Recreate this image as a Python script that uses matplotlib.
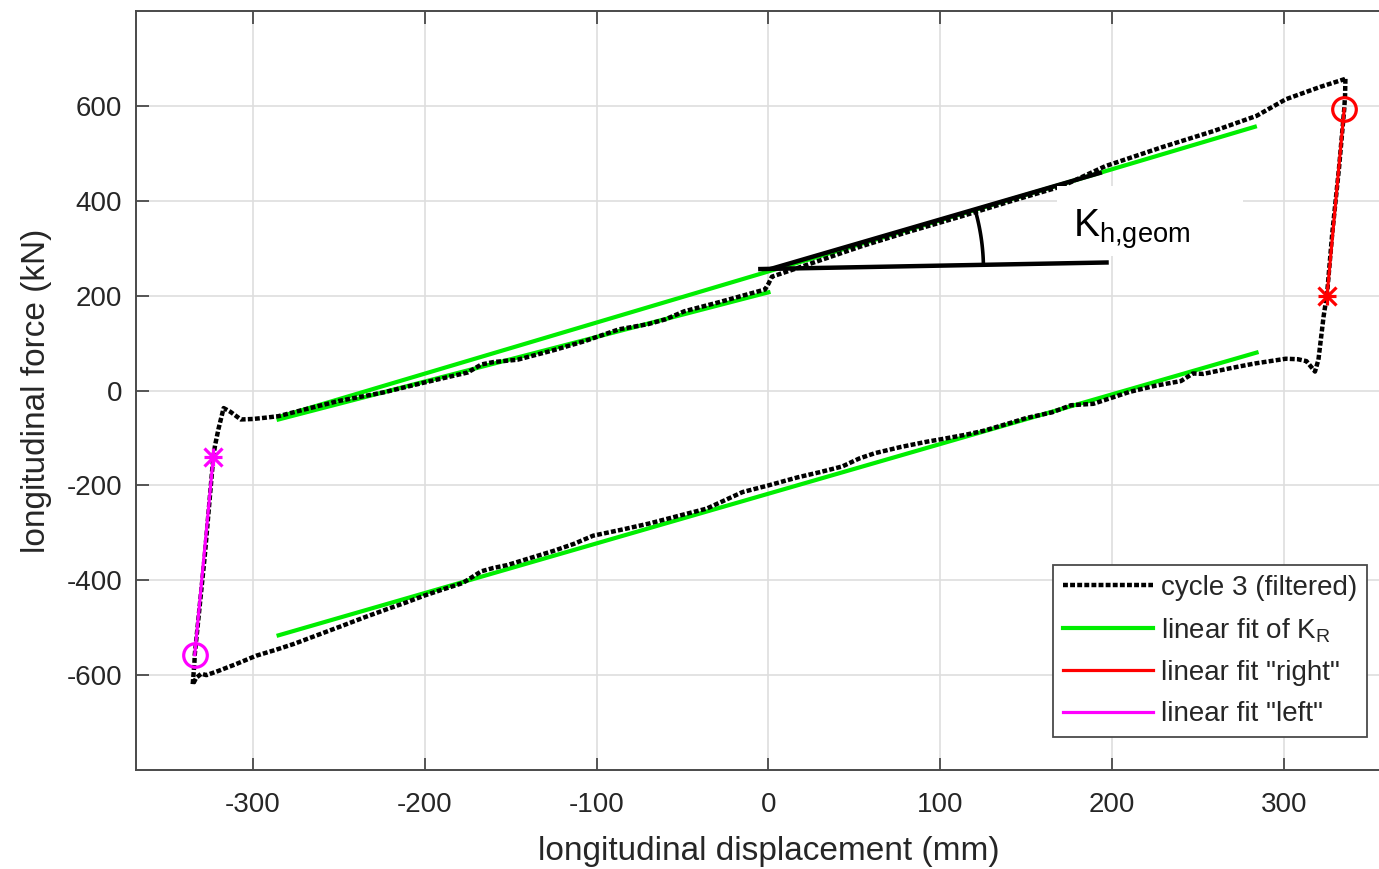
import numpy as np
import matplotlib
matplotlib.use("Agg")
import matplotlib.pyplot as plt
from matplotlib.lines import Line2D
from matplotlib.patches import Rectangle

plt.rcParams['font.family'] = ['Liberation Sans', 'DejaVu Sans']
plt.rcParams['mathtext.fontset'] = 'custom'
plt.rcParams['mathtext.rm'] = 'Liberation Sans'
plt.rcParams['axes.unicode_minus'] = False

# ---- measured cycle 3 (filtered), displacement (mm) / force (kN) ----
# right side going down, lower branch to the left, left side up, upper branch to the right
cycle_disp = [335.7, 335.5, 335.0, 332.0, 328.0, 325.0, 323.0, 320.0, 318.0,
              313.0, 308.0, 301.0, 292.0, 283.0, 270.0, 253.0, 247.0, 240.0, 225.0,
              210.0, 189.0, 176.0, 165.0, 150.0, 141.0, 125.0, 115.0, 100.0, 92.0,
              77.0, 62.0, 53.0, 43.0, 30.0, 17.0, 0.0, -15.0, -36.0, -50.0, -69.0,
              -85.0, -102.0, -113.0, -125.0, -134.0, -152.0, -160.0, -167.0, -178.0,
              -190.0, -200.0, -211.0, -222.0, -235.0, -248.0, -262.0, -276.0, -287.0,
              -298.0, -310.0, -320.0, -327.0, -330.0, -333.0, -335.0,
              -334.0, -333.8, -328.0, -323.0, -322.0, -320.0, -317.0, -313.0, -307.0,
              -300.0, -292.0, -285.0,
              -270.0, -250.0, -224.0, -200.0, -175.0, -167.0, -160.0, -146.0, -125.0,
              -107.0, -87.0, -70.0, -60.0, -49.0, -30.0, -15.0, -2.0, 0.0, 2.0, 20.0,
              54.0, 80.0, 113.0, 140.0, 171.0, 196.0, 229.0, 259.0, 284.0, 301.0,
              321.0, 335.7]
cycle_force = [657, 622, 593, 470, 330, 203, 156, 65, 40,
               62, 66, 67, 62, 57, 48, 35, 36, 20, 10,
               -3, -28, -31, -46, -58, -68, -85, -93, -103, -108,
               -119, -132, -143, -160, -172, -183, -200, -214, -249, -262, -280,
               -293, -306, -323, -338, -348, -368, -374, -381, -406,
               -420, -432, -447, -461, -478, -496, -515, -534, -547,
               -559, -577, -591, -600, -597, -606, -620,
               -575, -557, -350, -140, -116, -81, -37, -45, -61,
               -60, -57, -54,
               -40, -22, -4, 17, 38, 55, 60, 65, 85,
               104, 129, 140, 150, 167, 185, 200, 213, 225, 240, 262,
               304, 333, 368, 398, 431, 473, 513, 547, 579, 614,
               640, 657]

# ---- linear fits ----
fitKR_upper_x = [-285, 283]
fitKR_upper_y = [-56, 556]
fitKR_upper2_x = [-285, 0]
fitKR_upper2_y = [-61, 207]
fitKR_lower_x = [-285, 284]
fitKR_lower_y = [-516, 80]
right_x = [325, 335]
right_y = [200, 593]
left_x = [-323, -333.8]
left_y = [-140, -557]

# ---- K_h,geom sketch ----
tangent_x = [1, 194]
tangent_y = [256, 460]
base_x = [-6, 198]
base_y = [256, 270]
arc_center = (0.0, 256.0)
arc_radius_px = 215
arc_angles_deg = (1.6, 15.3)
label_box_x = (168, 276)
label_box_y = (284, 431)
label_pos = (177, 325)

fig = plt.figure(figsize=(13.79, 8.69), dpi=100)
ax = fig.add_axes([0.0986, 0.1139, 0.9173, 0.8734])
ax.set_xlim(-368, 368)
ax.set_ylim(-800, 800)
ax.set_xticks(np.arange(-300, 301, 100))
ax.set_yticks(np.arange(-600, 601, 200))

ax.grid(True, color='#dedede', linewidth=1.2)
ax.set_axisbelow(True)
for s in ax.spines.values():
    s.set_color('#4a4a4a')
    s.set_linewidth(1.4)
ax.tick_params(direction='in', top=True, right=True, length=9, width=1.3,
               color='#4a4a4a', labelcolor='#262626', labelsize=20)
ax.tick_params(axis='x', pad=16)
ax.tick_params(axis='y', pad=10)

green = '#00ee00'
ax.plot(fitKR_upper_x, fitKR_upper_y, color=green, lw=3, zorder=2)
ax.plot(fitKR_upper2_x, fitKR_upper2_y, color=green, lw=3, zorder=2)
ax.plot(fitKR_lower_x, fitKR_lower_y, color=green, lw=3, zorder=2)

dots = (0, (1.1, 0.5))
ax.plot(cycle_disp, cycle_force, color='k', lw=3.2, linestyle=dots, zorder=3)

ax.plot(right_x, right_y, color='#ff0000', lw=2.3, zorder=4)
ax.plot(left_x, left_y, color='#ff00ff', lw=2.3, zorder=4)
for mk in ['+', 'x']:
    ax.plot(right_x[0], right_y[0], marker=mk, color='#ff0000', ms=13, mew=2.3, zorder=5)
    ax.plot(left_x[0], left_y[0], marker=mk, color='#ff00ff', ms=13, mew=2.3, zorder=5)
ax.plot(right_x[1], right_y[1], marker='o', mfc='none', mec='#ff0000', ms=17, mew=2.3, zorder=5)
ax.plot(left_x[1], left_y[1], marker='o', mfc='none', mec='#ff00ff', ms=17, mew=2.3, zorder=5)

# sketch of the geometric stiffness angle
ax.plot(tangent_x, tangent_y, color='k', lw=3.2, solid_capstyle='butt', zorder=6)
ax.plot(base_x, base_y, color='k', lw=3.2, solid_capstyle='butt', zorder=6)
c_disp = ax.transData.transform(arc_center)
t = np.radians(np.linspace(arc_angles_deg[0], arc_angles_deg[1], 40))
arc_disp = np.column_stack([c_disp[0] + arc_radius_px * np.cos(t),
                            c_disp[1] + arc_radius_px * np.sin(t)])
arc_data = ax.transData.inverted().transform(arc_disp)
ax.plot(arc_data[:, 0], arc_data[:, 1], color='k', lw=2.6, zorder=6)

ax.add_patch(Rectangle((label_box_x[0], label_box_y[0]),
                       label_box_x[1] - label_box_x[0], label_box_y[1] - label_box_y[0],
                       facecolor='white', edgecolor='none', zorder=7))
ax.text(label_pos[0], label_pos[1], r'K$_\mathregular{h{,}geom}$', fontsize=28,
        ha='left', va='baseline', color='k', zorder=8)

ax.set_xlabel('longitudinal displacement (mm)', fontsize=24, color='#262626', labelpad=13)
ax.set_ylabel('longitudinal force (kN)', fontsize=24, color='#262626', labelpad=10)

handles = [Line2D([], [], color='k', lw=3.2, linestyle=dots),
           Line2D([], [], color=green, lw=3),
           Line2D([], [], color='#ff0000', lw=2.3),
           Line2D([], [], color='#ff00ff', lw=2.3)]
labels = ['cycle 3 (filtered)', r'linear fit of K$_\mathregular{R}$',
          'linear fit "right"', 'linear fit "left"']
leg = ax.legend(handles, labels, loc='upper left', bbox_to_anchor=(0.725, 0.270),
                borderaxespad=0, fontsize=20, handlelength=3.25, handletextpad=0.3,
                labelspacing=0.55, borderpad=0.35, fancybox=False, framealpha=1)
leg.get_frame().set_edgecolor('#4a4a4a')
leg.get_frame().set_linewidth(1.3)
for txt in leg.get_texts():
    txt.set_color('#262626')

fig.savefig('out.png', dpi=100)
